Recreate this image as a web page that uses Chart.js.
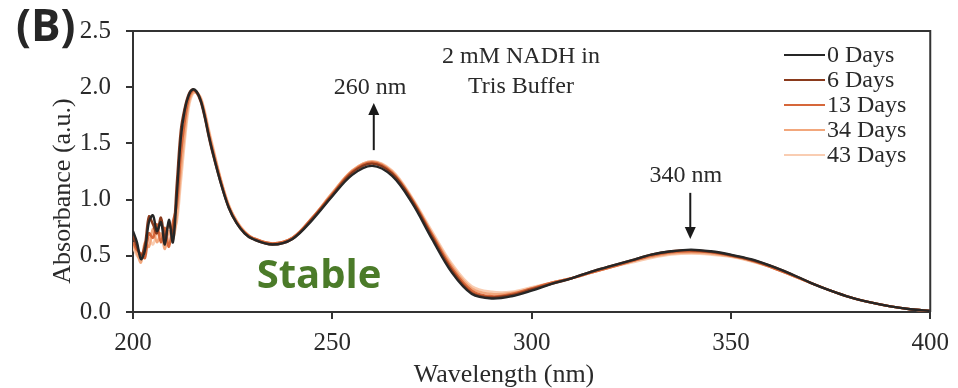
<!DOCTYPE html>
<html><head><meta charset="utf-8">
<script src="https://cdn.jsdelivr.net/npm/chart.js@4/dist/chart.umd.min.js"></script>
<style>html,body{margin:0;padding:0;background:#fff}#wrap{width:958px;height:388px;position:relative}</style>
</head><body><div id="wrap"><canvas id="c" width="958" height="388"></canvas></div>
<script>
const wavelengths = [200,201,202,203,204,205,206,207,208,209,210,211,212,213,214,215,216,217,218,219,220,
  222,224,226,228,230,
  235,240,245,250,255,260,265,270,275,280,285,290,295,300,305,310,315,320,325,330,335,340,345,350,355,360,365,370,375,380,385,390,395,400];
const days0 = [0.72,0.62,0.47,0.55,0.80,0.86,0.72,0.80,0.60,0.82,0.62,1.05,1.55,1.80,1.93,1.98,1.96,1.88,1.74,1.57,1.42,
  1.15,0.93,0.79,0.70,0.65,
  0.60,0.65,0.82,1.03,1.22,1.30,1.21,0.97,0.65,0.35,0.16,0.12,0.14,0.19,0.25,0.30,0.36,0.41,0.46,0.51,0.54,0.555,0.54,0.51,0.47,0.41,0.34,0.26,0.19,0.13,0.085,0.05,0.025,0.01];
const days6 = [0.68,0.58,0.50,0.60,0.85,0.78,0.70,0.84,0.66,0.78,0.70,1.15,1.62,1.82,1.94,1.98,1.95,1.87,1.73,1.56,1.41,
  1.15,0.93,0.79,0.70,0.65,
  0.60,0.65,0.83,1.04,1.24,1.32,1.23,0.99,0.67,0.37,0.17,0.13,0.15,0.20,0.25,0.30,0.36,0.41,0.46,0.51,0.54,0.55,0.535,0.505,0.465,0.41,0.34,0.26,0.19,0.13,0.085,0.05,0.025,0.01];
const days13 = [0.62,0.55,0.52,0.48,0.70,0.66,0.78,0.62,0.75,0.58,0.80,0.95,1.40,1.70,1.90,1.97,1.96,1.89,1.76,1.59,1.44,
  1.17,0.94,0.80,0.71,0.66,
  0.61,0.66,0.84,1.05,1.25,1.33,1.24,1.00,0.69,0.39,0.19,0.14,0.16,0.21,0.26,0.30,0.35,0.40,0.45,0.50,0.53,0.54,0.53,0.50,0.46,0.40,0.33,0.26,0.19,0.13,0.085,0.05,0.025,0.01];
const days34 = [0.60,0.52,0.44,0.62,0.58,0.74,0.62,0.70,0.56,0.72,0.64,0.85,1.25,1.60,1.86,1.95,1.95,1.90,1.77,1.61,1.46,
  1.18,0.95,0.81,0.71,0.66,
  0.61,0.66,0.84,1.06,1.26,1.34,1.25,1.01,0.70,0.41,0.21,0.16,0.17,0.21,0.26,0.30,0.35,0.40,0.45,0.49,0.52,0.53,0.52,0.495,0.455,0.40,0.33,0.26,0.19,0.13,0.085,0.05,0.025,0.01];
const days43 = [0.58,0.50,0.48,0.56,0.66,0.60,0.70,0.64,0.72,0.60,0.70,0.80,1.15,1.52,1.82,1.94,1.95,1.91,1.79,1.63,1.48,
  1.19,0.96,0.81,0.72,0.66,
  0.61,0.66,0.84,1.06,1.26,1.34,1.26,1.02,0.72,0.43,0.23,0.18,0.18,0.22,0.26,0.30,0.35,0.40,0.44,0.48,0.51,0.52,0.51,0.49,0.45,0.40,0.33,0.26,0.19,0.13,0.085,0.05,0.025,0.01];
const seriesLabels = ['0 Days','6 Days','13 Days','34 Days','43 Days'];
const seriesValues = [days0, days6, days13, days34, days43];
const seriesColors = ['#262626','#8a3a1c','#d6673a','#f2a77c','#f9cdb2'];
const xTicks = [200,250,300,350,400];
const yTicks = [0,0.5,1.0,1.5,2.0,2.5];

const SERIF = '"Liberation Serif", "DejaVu Serif", serif';
const TXT = '#2a2a2a';

const datasets = seriesValues.map((vals, i) => ({
  label: seriesLabels[i],
  data: wavelengths.map((w, j) => ({x: w, y: vals[j]})),
  borderColor: seriesColors[i],
  backgroundColor: seriesColors[i],
  borderWidth: 2.4,
  pointRadius: 0,
  tension: 0.35,
  fill: false,
  order: i
}));

const overlay = {
  id: 'overlay',
  afterDraw(chart) {
    const {ctx, chartArea: a, scales: {x, y}} = chart;
    ctx.save();
    // frame top & right
    ctx.strokeStyle = '#333'; ctx.lineWidth = 2;
    ctx.beginPath();
    ctx.moveTo(a.left, a.top); ctx.lineTo(a.right, a.top); ctx.lineTo(a.right, a.bottom);
    ctx.stroke();
    // axis titles
    ctx.fillStyle = TXT;
    ctx.font = '26px ' + SERIF; ctx.textBaseline = 'middle'; ctx.textAlign = 'center';
    ctx.fillText('Wavelength (nm)', 504, 375);
    ctx.save();
    ctx.translate(63, 191); ctx.rotate(-Math.PI / 2);
    ctx.fillText('Absorbance (a.u.)', 0, 0);
    ctx.restore();
    // legend
    ctx.font = '24px ' + SERIF; ctx.textBaseline = 'middle'; ctx.textAlign = 'left';
    seriesLabels.forEach((lab, i) => {
      const yy = 55 + i * 25;
      ctx.strokeStyle = seriesColors[i]; ctx.lineWidth = 2.2;
      ctx.beginPath(); ctx.moveTo(784, yy); ctx.lineTo(825, yy); ctx.stroke();
      ctx.fillStyle = TXT; ctx.fillText(lab, 827, yy + 1);
    });
    // annotation text
    ctx.font = '24px ' + SERIF;
    ctx.textAlign = 'center';
    ctx.fillText('2 mM NADH in', 521, 57);
    ctx.fillText('Tris Buffer', 521, 87);
    ctx.fillText('260 nm', x.getPixelForValue(259.5), 88);
    ctx.fillText('340 nm', x.getPixelForValue(338.7), 176);
    // arrows
    function arrow(xv, y1v, y2v) {
      const px = x.getPixelForValue(xv);
      const p1 = y.getPixelForValue(y1v), p2 = y.getPixelForValue(y2v);
      const dir = p2 < p1 ? -1 : 1;
      ctx.strokeStyle = '#1a1a1a'; ctx.fillStyle = '#1a1a1a'; ctx.lineWidth = 2;
      ctx.beginPath(); ctx.moveTo(px, p1); ctx.lineTo(px, p2 - dir * 10); ctx.stroke();
      ctx.beginPath(); ctx.moveTo(px, p2); ctx.lineTo(px - 5.5, p2 - dir * 12); ctx.lineTo(px + 5.5, p2 - dir * 12); ctx.closePath(); ctx.fill();
    }
    arrow(260.4, 1.44, 1.86);
    arrow(339.8, 1.06, 0.65);
    // Stable
    ctx.font = 'bold 40px "Open Sans", "Noto Sans", sans-serif';
    ctx.fillStyle = '#4b7b29';
    ctx.fillText('Stable', 319, 277);
    // (B)
    ctx.font = 'bold 44px "Open Sans", "Noto Sans", sans-serif';
    ctx.fillStyle = '#262626';
    ctx.textAlign = 'left';
    ctx.fillText('(B)', 16, 28);
    ctx.restore();
  }
};

new Chart(document.getElementById('c'), {
  type: 'line',
  data: {datasets},
  options: {
    responsive: false,
    animation: false,
    layout: {padding: {top: 31, right: 26, left: 0, bottom: 0}},
    plugins: {legend: {display: false}, tooltip: {enabled: false}},
    scales: {
      x: {
        type: 'linear', min: 200, max: 400,
        afterBuildTicks: s => { s.ticks = xTicks.map(v => ({value: v})); },
        afterFit: s => { s.height = 76; },
        ticks: {color: TXT, font: {family: SERIF, size: 25}, padding: 9, maxRotation: 0},
        grid: {drawOnChartArea: false, drawTicks: true, tickLength: 7, color: '#333', lineWidth: 2},
        border: {color: '#333', width: 2}
      },
      y: {
        min: 0, max: 2.5,
        afterBuildTicks: s => { s.ticks = yTicks.map(v => ({value: v})); },
        afterFit: s => { s.width = 133; },
        ticks: {color: TXT, font: {family: SERIF, size: 25}, padding: 15, callback: v => Number(v).toFixed(1)},
        grid: {drawOnChartArea: false, drawTicks: true, tickLength: 7, color: '#333', lineWidth: 2},
        border: {color: '#333', width: 2}
      }
    }
  },
  plugins: [overlay]
});
</script>
</body></html>
